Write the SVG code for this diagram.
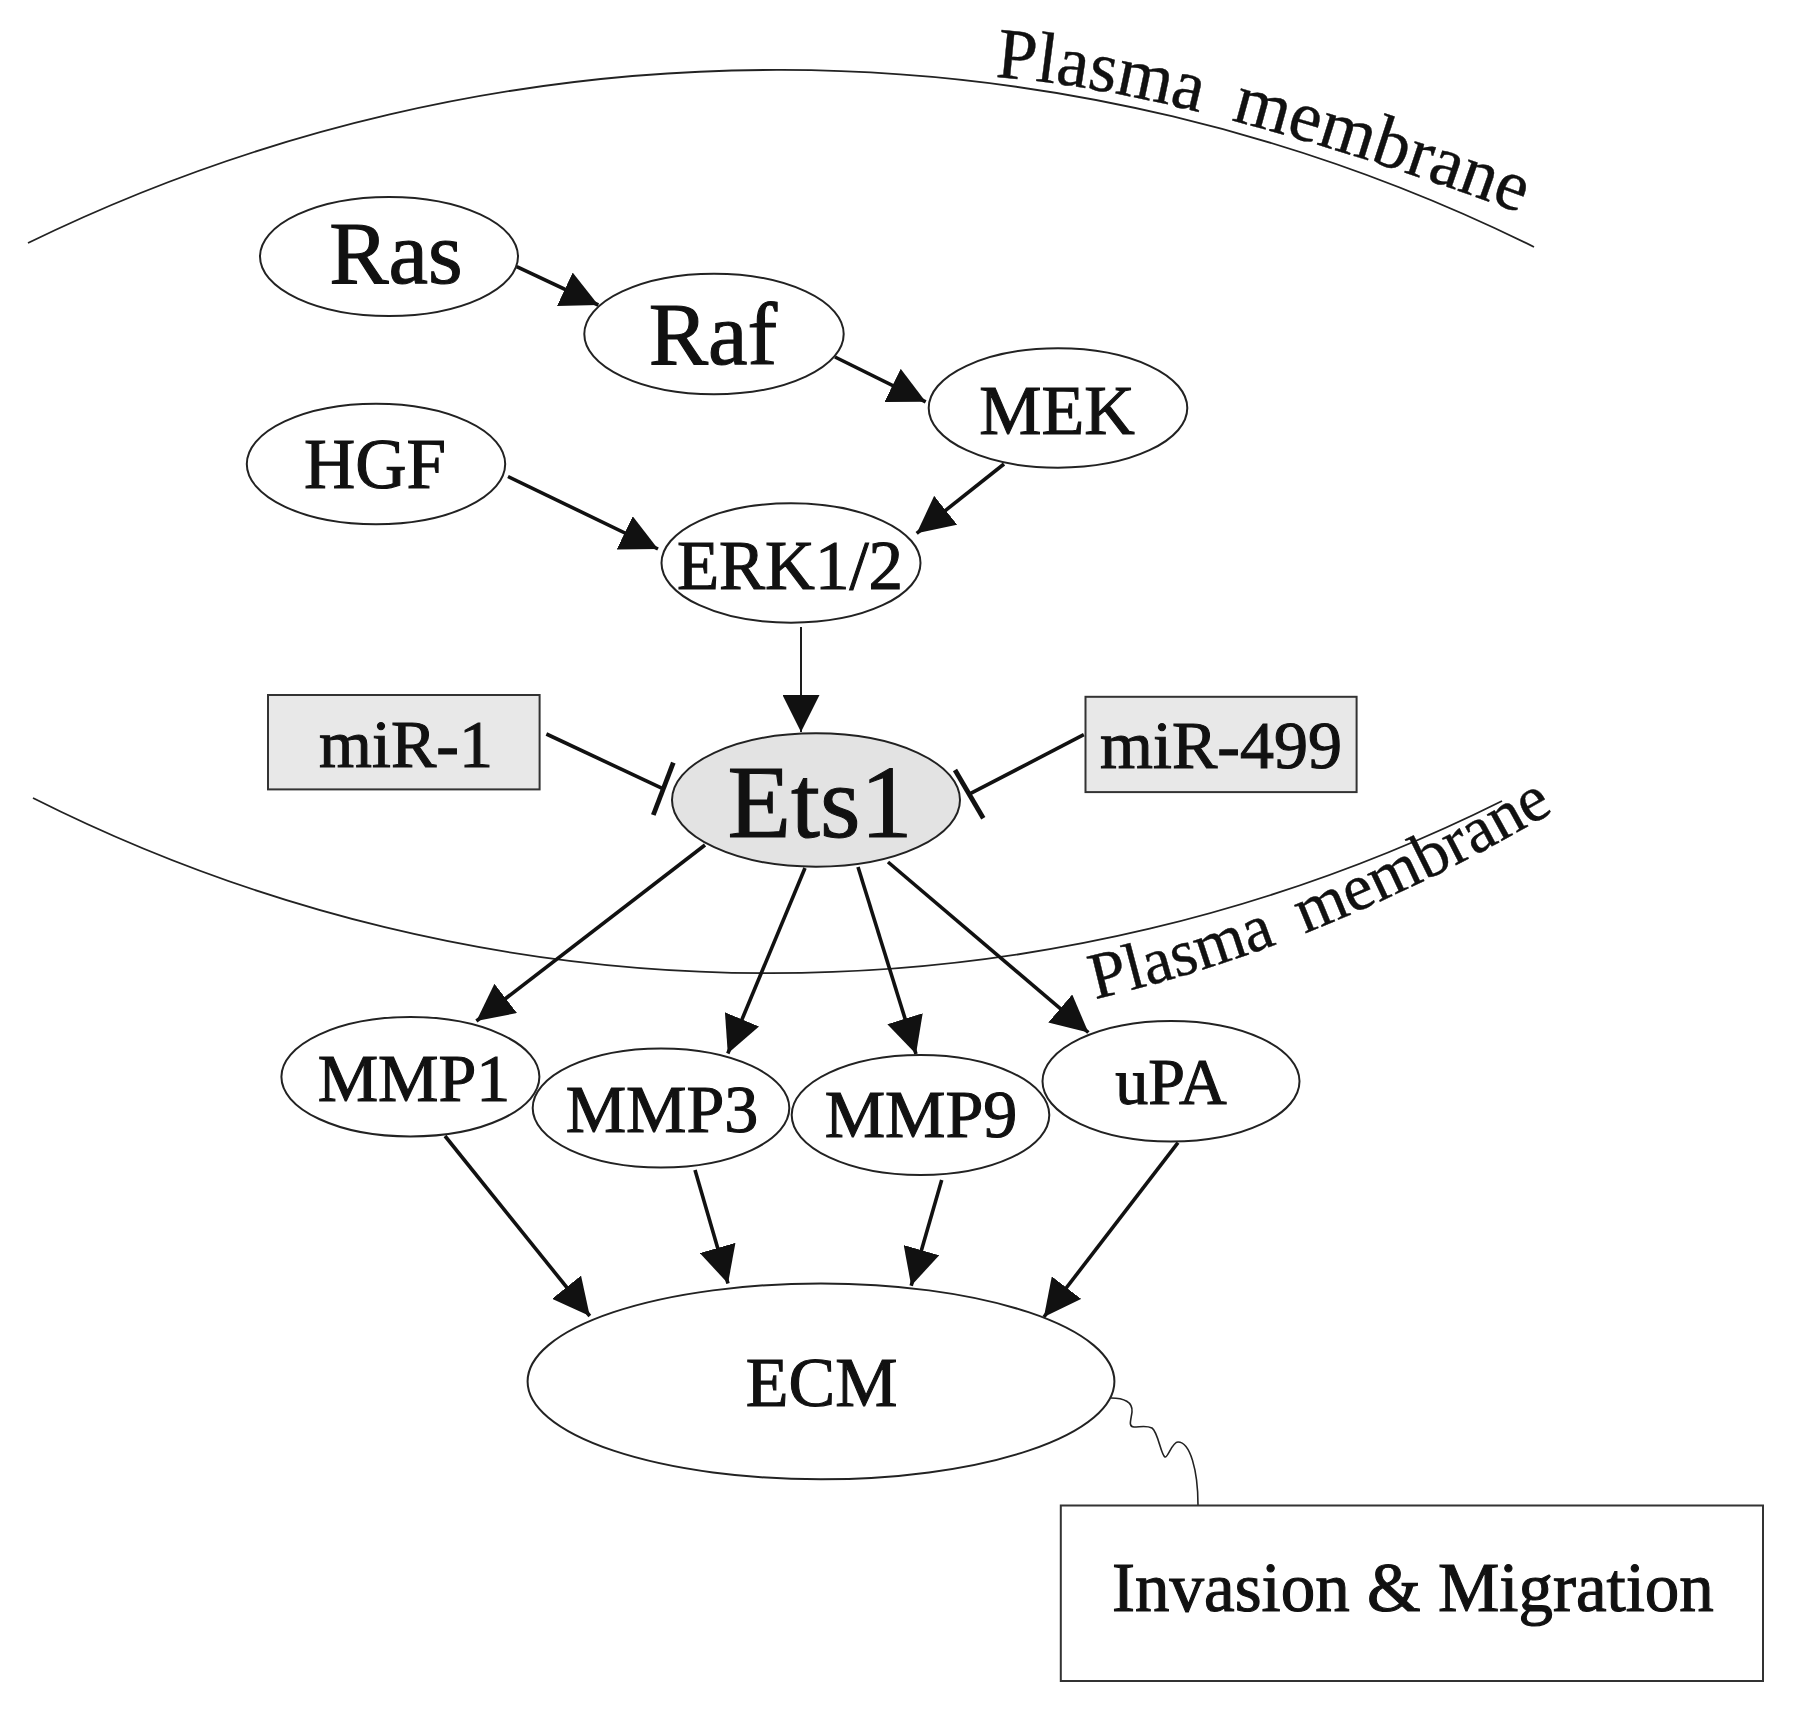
<svg xmlns="http://www.w3.org/2000/svg" xmlns:xlink="http://www.w3.org/1999/xlink" width="1795" height="1713" viewBox="0 0 1795 1713">
<style>
  text { font-family: "Liberation Serif", "Times New Roman", serif; fill: #111; }
  .node { fill: #fff; stroke: #222; stroke-width: 2; }
  .gray { fill: #e3e3e3; stroke: #222; stroke-width: 2; }
  .mir { fill: #e8e8e8; stroke: #333; stroke-width: 2; }
  .box { fill: #fff; stroke: #333; stroke-width: 2; }
  .c { fill: none; stroke: #111; stroke-width: 3.6; marker-end: url(#arr); }
  .thin { fill: none; stroke: #111; stroke-width: 1.9; marker-end: url(#arr); }
  .inh { fill: none; stroke: #111; stroke-width: 3.6; }
  .bar { fill: none; stroke: #111; stroke-width: 4.8; }
  .mem { fill: none; stroke: #222; stroke-width: 1.8; }
  .lbl { text-anchor: middle; stroke: #111; stroke-width: 1.1; }
  .memtxt { stroke: #111; stroke-width: 0.4; }
</style>
<defs>
  <marker id="arr" markerUnits="userSpaceOnUse" viewBox="0 0 36 36" markerWidth="37" markerHeight="37" refX="36" refY="18" orient="auto">
    <path d="M0,0 L36,18 L0,36 z" fill="#111"/>
  </marker>
  <path id="tp1" d="M995,77 Q1200,92 1560,228"/>
  <path id="tp2" d="M1095,999 Q1330,945 1570,802"/>
</defs>
<rect width="1795" height="1713" fill="#fff"/>

<g id="membranes">
  <path class="mem" d="M28,243 A1707,1707 0 0 1 1534,247"/>
  <path class="mem" d="M33,798 A1640,1640 0 0 0 1502,801"/>
  <text class="memtxt" font-size="72"><textPath xlink:href="#tp1">Plasma<tspan dx="32">membrane</tspan></textPath></text>
  <text class="memtxt" font-size="66"><textPath xlink:href="#tp2">Plasma<tspan dx="29">membrane</tspan></textPath></text>
</g>

<g id="connectors">
  <path class="c" d="M516.7,266.7 L598.3,305"/>
  <path class="c" d="M835,357 L925.7,401.8"/>
  <path class="c" d="M508,476.5 L658,549"/>
  <path class="c" d="M1004,464 L916.7,533.3"/>
  <path class="thin" d="M801,627 L801,732"/>
  <path class="inh" d="M546.4,734 L663.3,788.9"/>
  <path class="bar" d="M673.3,762.7 L653.3,815"/>
  <path class="inh" d="M1083.8,734.7 L969.2,794.2"/>
  <path class="bar" d="M955,770 L983.3,818.3"/>
  <path class="c" d="M705,845 L476.4,1021"/>
  <path class="c" d="M805,868 L727.8,1053.5"/>
  <path class="c" d="M858,867 L916,1054"/>
  <path class="c" d="M888,862 L1088.4,1032.5"/>
  <path class="c" d="M445,1136 L589.8,1316"/>
  <path class="c" d="M695,1170 L728,1283.5"/>
  <path class="c" d="M941.7,1180 L911.2,1285.7"/>
  <path class="c" d="M1178,1142.7 L1043.9,1317"/>
  <path fill="none" stroke="#222" stroke-width="1.6" d="M1111,1398 C1124,1398 1133,1402 1132,1412 C1131,1420 1128,1427 1134,1427 C1140,1427 1146,1425 1152,1428 C1158,1432 1161,1455 1165,1457 C1168,1458 1172,1442 1178,1442 C1190,1442 1198,1470 1198,1505"/>
</g>

<g id="node-ras"><ellipse class="node" cx="389" cy="256.5" rx="129" ry="59.5"/><text class="lbl" x="396" y="283" font-size="89">Ras</text></g>
<g id="node-raf"><ellipse class="node" cx="714" cy="334" rx="129.7" ry="60.3"/><text class="lbl" x="713" y="363.6" font-size="89">Raf</text></g>
<g id="node-mek"><ellipse class="node" cx="1058" cy="408" rx="129.3" ry="59.7"/><text class="lbl" x="1057" y="434.4" font-size="70">MEK</text></g>
<g id="node-hgf"><ellipse class="node" cx="376" cy="464" rx="129.2" ry="60.3"/><text class="lbl" x="375" y="488" font-size="71">HGF</text></g>
<g id="node-erk"><ellipse class="node" cx="791" cy="563" rx="129.5" ry="59.7"/><text class="lbl" x="790" y="589.3" font-size="69">ERK1/2</text></g>
<g id="node-mir1"><rect class="mir" x="268" y="695" width="271.6" height="94.4"/><text class="lbl" x="406" y="767" font-size="68">miR-1</text></g>
<g id="node-mir499"><rect class="mir" x="1085.5" y="696.8" width="271.1" height="95.3"/><text class="lbl" x="1221" y="768.4" font-size="68">miR-499</text></g>
<g id="node-ets1"><ellipse class="gray" cx="816" cy="800" rx="144" ry="66.7"/><text class="lbl" x="820" y="836.7" font-size="104">Ets1</text></g>
<g id="node-mmp1"><ellipse class="node" cx="410.4" cy="1076.8" rx="129" ry="59.7"/><text class="lbl" x="414" y="1101.3" font-size="68">MMP1</text></g>
<g id="node-mmp3"><ellipse class="node" cx="661" cy="1108" rx="128.3" ry="59.5"/><text class="lbl" x="662" y="1132" font-size="68">MMP3</text></g>
<g id="node-mmp9"><ellipse class="node" cx="920.5" cy="1115" rx="128.8" ry="60"/><text class="lbl" x="921" y="1137.3" font-size="68">MMP9</text></g>
<g id="node-upa"><ellipse class="node" cx="1171" cy="1081.3" rx="128.5" ry="60.3"/><text class="lbl" x="1171" y="1104.4" font-size="66">uPA</text></g>
<g id="node-ecm"><ellipse class="node" cx="821" cy="1381.4" rx="293.4" ry="97.9"/><text class="lbl" x="821.7" y="1405.6" font-size="70">ECM</text></g>
<g id="node-invasion"><rect class="box" x="1060.8" y="1505.5" width="702.2" height="175.5"/><text class="lbl" x="1413" y="1611.3" font-size="69">Invasion &amp; Migration</text></g>
</svg>
